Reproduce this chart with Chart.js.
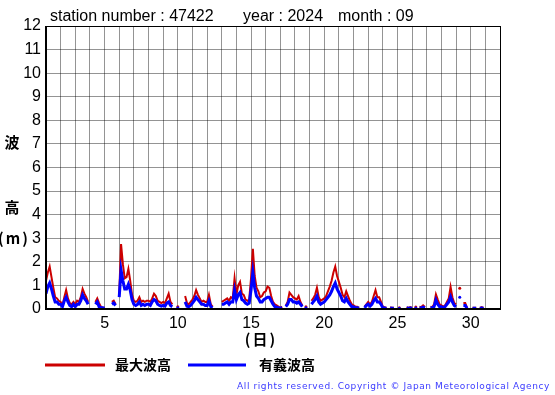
<!DOCTYPE html>
<html>
<head>
<meta charset="utf-8">
<script src="https://cdn.jsdelivr.net/npm/chart.js@4/dist/chart.umd.min.js"></script>
<style>
  body { margin: 0; background: #fff; }
  #waveChart { display: block; }
</style>
</head>
<body>
<canvas id="waveChart" width="555" height="395"></canvas>
<script>
// wave height, 3-hourly readings, day 1 00h .. day 31 00h (null = missing)
var stepsPerDay = 8;
var firstDay = 1;

var maxWave = [
  1.2, 1.55, 1.8, 1.35, 0.9, 0.5, 0.45, 0.35,          // 1
  0.3, 0.15, 0.5, 0.8, 0.45, 0.25, 0.2, 0.3,           // 2
  0.2, 0.35, 0.3, 0.5, 0.85, 0.65, 0.5, 0.3,           // 3
  null, null, null, 0.3, 0.45, 0.25, 0.1, 0.05,        // 4
  0.05, null, null, null, 0.3, 0.35, 0.2, null,        // 5
  0.65, 2.75, 1.9, 1.3, 1.35, 1.7, 1.2, 0.6,           // 6
  0.35, 0.3, 0.35, 0.5, 0.3, 0.35, 0.3, 0.35,          // 7
  0.35, 0.3, 0.45, 0.65, 0.55, 0.35, 0.3, 0.25,        // 8
  0.3, 0.25, 0.45, 0.65, 0.3, 0.2, null, null,         // 9
  0.1, null, null, null, 0.55, 0.25, 0.2, 0.3,         // 10
  0.4, 0.55, 0.8, 0.6, 0.45, 0.3, 0.35, 0.3,           // 11
  0.3, 0.6, 0.2, 0.1, null, null, null, null,          // 12
  0.3, 0.35, 0.4, 0.45, 0.35, 0.5, 0.45, 1.3,          // 13
  0.6, 1.0, 1.15, 0.65, 0.6, 0.4, 0.35, 0.4,           // 14
  1.3, 2.55, 1.4, 0.9, 0.75, 0.5, 0.55, 0.7,           // 15
  0.75, 0.95, 0.9, 0.55, 0.3, 0.2, 0.15, 0.1,          // 16
  0.05, 0.1, null, 0.15, 0.3, 0.7, 0.6, 0.5,           // 17
  0.45, 0.4, 0.55, 0.3, 0.15, null, 0.1, null,         // 18
  null, 0.35, 0.45, 0.6, 0.9, 0.5, 0.35, 0.4,          // 19
  0.45, 0.55, 0.75, 0.95, 1.2, 1.55, 1.8, 1.4,         // 20
  1.15, 0.9, 0.6, 0.5, 0.75, 0.55, 0.35, 0.2,          // 21
  0.15, 0.1, 0.1, 0.05, null, null, 0.1, 0.2,          // 22
  0.3, 0.2, 0.3, 0.55, 0.8, 0.5, 0.5, 0.3,             // 23
  0.1, 0.08, 0.05, null, 0.08, 0.05, 0.05, null,       // 24
  null, 0.05, null, null, null, 0.08, 0.05, 0.08,      // 25
  0.05, null, 0.08, null, 0.1, 0.08, 0.15, 0.08,       // 26
  null, null, 0.1, 0.08, 0.2, 0.62, 0.4, 0.2,          // 27
  0.15, 0.1, 0.15, 0.3, 0.45, 0.94, 0.5, 0.25,         // 28
  0.2, null, 0.88, null, 0.25, 0.25, 0.05, null,       // 29
  null, 0.05, 0.05, 0.05, null, 0.05, 0.08, 0.05,      // 30
  null                                                 // 31
];

var sigWave = [
  0.65, 0.95, 1.1, 0.85, 0.55, 0.3, 0.3, 0.2,
  0.2, 0.1, 0.35, 0.5, 0.3, 0.15, 0.1, 0.2,
  0.1, 0.2, 0.2, 0.35, 0.6, 0.45, 0.35, 0.2,
  null, null, null, 0.2, 0.3, 0.1, 0.05, 0.05,
  0.03, null, null, null, 0.2, 0.25, 0.15, null,
  0.5, 1.65, 1.2, 0.85, 0.85, 1.05, 0.8, 0.4,
  0.2, 0.15, 0.2, 0.3, 0.15, 0.2, 0.15, 0.2,
  0.2, 0.15, 0.3, 0.4, 0.35, 0.2, 0.15, 0.12,
  0.15, 0.12, 0.25, 0.3, 0.15, 0.1, null, null,
  0.05, null, null, null, 0.3, 0.12, 0.1, 0.15,
  0.25, 0.35, 0.5, 0.4, 0.3, 0.2, 0.2, 0.15,
  0.15, 0.35, 0.1, 0.05, null, null, null, null,
  0.2, 0.2, 0.25, 0.3, 0.2, 0.3, 0.3, 0.8,
  0.4, 0.6, 0.7, 0.4, 0.35, 0.25, 0.2, 0.25,
  0.8, 1.55, 0.9, 0.55, 0.45, 0.3, 0.3, 0.4,
  0.45, 0.5, 0.5, 0.35, 0.2, 0.1, 0.08, 0.05,
  0.03, 0.05, null, 0.1, 0.2, 0.4, 0.4, 0.3,
  0.3, 0.25, 0.3, 0.2, 0.1, null, 0.05, null,
  null, 0.2, 0.3, 0.4, 0.55, 0.3, 0.2, 0.25,
  0.3, 0.4, 0.5, 0.6, 0.75, 0.95, 1.1, 0.85,
  0.7, 0.55, 0.35, 0.3, 0.45, 0.3, 0.2, 0.1,
  0.1, 0.05, 0.05, 0.03, null, null, 0.05, 0.15,
  0.2, 0.12, 0.2, 0.35, 0.45, 0.3, 0.3, 0.2,
  0.05, 0.04, 0.03, null, 0.04, 0.03, 0.03, null,
  null, 0.03, null, null, null, 0.04, 0.03, 0.04,
  0.03, null, 0.04, null, 0.05, 0.04, 0.08, 0.05,
  null, null, 0.05, 0.05, 0.1, 0.38, 0.2, 0.1,
  0.1, 0.05, 0.1, 0.2, 0.3, 0.52, 0.3, 0.15,
  0.1, null, 0.5, null, 0.15, 0.15, 0.03, null,
  null, 0.03, 0.03, 0.03, null, 0.03, 0.04, 0.03,
  null
];

var dayTicks = [5, 10, 15, 20, 25, 30];
var seriesNames = ['最大波高', '有義波高'];
var titleParts = ['station number : 47422', 'year : 2024', 'month : 09'];

var RED = 'rgb(204,0,0)';
var BLUE = 'rgb(0,0,255)';

function toPoints(arr) {
  return arr.map(function(v, i) {
    return { x: firstDay + i / stepsPerDay, y: v };
  });
}

// show single readings that have no neighbours as dots
function lonePoint(ctx) {
  var d = ctx.dataset.data, i = ctx.dataIndex;
  if (!d[i] || d[i].y == null) return 0;
  var prev = d[i - 1], next = d[i + 1];
  var noPrev = !prev || prev.y == null;
  var noNext = !next || next.y == null;
  return (noPrev && noNext) ? 1.5 : 0;
}

// texts outside the plot + frame
var decorations = {
  id: 'decorations',
  afterDraw: function(chart) {
    var c = chart.ctx, a = chart.chartArea;
    c.save();
    // frame
    c.strokeStyle = '#000';
    c.lineWidth = 1;
    c.strokeRect(a.left + 0.5, a.top + 0.5, a.right - a.left, a.bottom - a.top);
    c.lineWidth = 2;
    c.beginPath();
    c.moveTo(a.left, a.top);
    c.lineTo(a.left, a.bottom);
    c.lineTo(a.right, a.bottom);
    c.stroke();

    // title
    c.fillStyle = '#000';
    c.font = '16px "Liberation Sans", Arial, sans-serif';
    c.textBaseline = 'alphabetic';
    c.textAlign = 'left';
    c.fillText(titleParts[0], 50, 21);
    c.fillText(titleParts[1], 243, 21);
    c.fillText(titleParts[2], 338, 21);

    // y axis title
    c.font = 'bold 15px "Noto Sans CJK JP", sans-serif';
    c.textBaseline = 'middle';
    c.textAlign = 'center';
    c.fillText('波', 12, 142);
    c.fillText('高', 12, 207);
    c.letterSpacing = '2px';
    c.fillText('(m)', 14, 238);

    // x axis title
    c.fillText('(日)', 261, 339);
    c.letterSpacing = '0px';

    // legend
    c.lineWidth = 3;
    c.strokeStyle = RED;
    c.beginPath(); c.moveTo(45, 365); c.lineTo(105, 365); c.stroke();
    c.strokeStyle = BLUE;
    c.beginPath(); c.moveTo(188, 365); c.lineTo(246, 365); c.stroke();
    c.font = 'bold 14px "Noto Sans CJK JP", sans-serif';
    c.textAlign = 'left';
    c.fillText(seriesNames[0], 115, 365);
    c.fillText(seriesNames[1], 259, 365);

    // copyright
    c.font = '9px "DejaVu Sans", sans-serif';
    c.fillStyle = 'rgb(60,60,255)';
    c.textAlign = 'right';
    c.letterSpacing = '0.6px';
    c.fillText('All rights reserved. Copyright \u00a9 Japan Meteorological Agency', 550, 387);
    c.restore();
  }
};

var ctx = document.getElementById('waveChart');
var waveChart = new Chart(ctx, {
  type: 'line',
  data: {
    datasets: [
      {
        label: seriesNames[0],
        data: toPoints(maxWave),
        borderColor: RED,
        backgroundColor: RED,
        borderWidth: 2,
        pointRadius: lonePoint,
        pointBorderWidth: 0,
        fill: false,
        spanGaps: false,
        order: 1
      },
      {
        label: seriesNames[1],
        data: toPoints(sigWave),
        borderColor: BLUE,
        backgroundColor: BLUE,
        borderWidth: 3,
        pointRadius: lonePoint,
        pointBorderWidth: 0,
        fill: false,
        spanGaps: false,
        order: 0
      }
    ]
  },
  options: {
    responsive: false,
    animation: false,
    devicePixelRatio: 1,
    layout: { padding: { left: 0, top: 26, right: 55, bottom: 0 } },
    plugins: {
      legend: { display: false },
      title: { display: false },
      tooltip: { enabled: false }
    },
    scales: {
      x: {
        type: 'linear',
        min: 1,
        max: 32,
        afterFit: function(s) { s.height = 86; },
        border: { display: false },
        grid: { color: 'rgba(0,0,0,0.42)', drawTicks: false, lineWidth: 1 },
        ticks: {
          stepSize: 1,
          autoSkip: false,
          maxRotation: 0,
          padding: 5,
          color: '#000',
          font: { family: '"Liberation Sans", Arial, sans-serif', size: 16 },
          callback: function(v) { return dayTicks.indexOf(v) >= 0 ? String(v) : ''; }
        }
      },
      y: {
        min: 0,
        max: 12,
        afterFit: function(s) { s.width = 46; },
        border: { display: false },
        grid: { color: 'rgba(0,0,0,0.42)', drawTicks: false, lineWidth: 1 },
        ticks: {
          stepSize: 1,
          padding: 5,
          color: '#000',
          font: { family: '"Liberation Sans", Arial, sans-serif', size: 16 }
        }
      }
    }
  },
  plugins: [decorations]
});
</script>
</body>
</html>
